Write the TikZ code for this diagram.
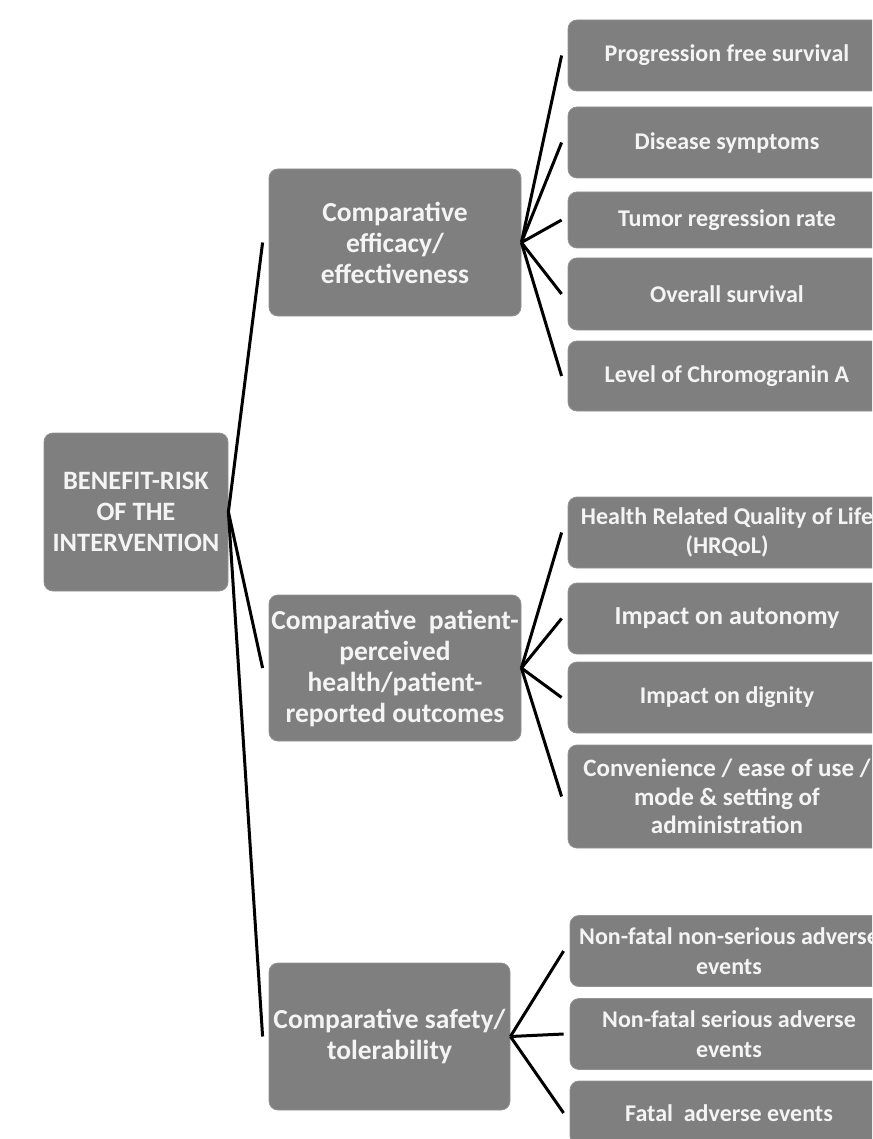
\documentclass[tikz,border=0pt]{standalone}
\usepackage{fontspec}
\setmainfont{Carlito}
\definecolor{boxgray}{HTML}{7F7F7F}
\definecolor{txtw}{HTML}{F4F4F4}
\begin{document}
\begin{tikzpicture}[x=1pt,y=-1pt,
  box/.style={fill=boxgray, draw=boxgray!85!white, line width=0.8pt, rounded corners=9pt, text=txtw, align=center, inner sep=0pt},
  bigtxt/.style={font=\bfseries\fontsize{27.5}{31}\selectfont},
  roottxt/.style={font=\bfseries\fontsize{26.5}{31}\selectfont},
  leaftxt/.style={font=\bfseries\fontsize{24}{29.5}\selectfont},
  leafbig/.style={font=\bfseries\fontsize{26}{29}\selectfont},
  conn/.style={draw=black, line width=3pt}]
\useasboundingbox (0,0) rectangle (872,1139);
\clip (0,0) rectangle (872,1139);
% root and middle level
\node[box, roottxt, minimum width=184, minimum height=158] (root) at (136,512) {BENEFIT-RISK\\OF THE\\INTERVENTION};
\node[box, bigtxt, minimum width=252, minimum height=147] (eff) at (395,242.5) {Comparative\\efficacy/\\effectiveness};
\node[box, bigtxt, minimum width=252, minimum height=146] (pat) at (395,668) {Comparative\ \ patient-\\perceived\\health/patient-\\reported outcomes};
\node[box, bigtxt, minimum width=241, minimum height=147] (saf) at (389.5,1036.5) {Comparative safety/\\tolerability};
% leaves: efficacy
\node[box, leaftxt, minimum width=318, minimum height=71] (b1) at (727,55.5) {Progression free survival};
\node[box, leaftxt, minimum width=318, minimum height=71] (b2) at (727,142.5) {Disease symptoms};
\node[box, leaftxt, minimum width=318, minimum height=56] (b3) at (727,220) {Tumor regression rate};
\node[box, leaftxt, minimum width=318, minimum height=72] (b4) at (727,294) {Overall survival};
\node[box, leaftxt, minimum width=318, minimum height=70] (b5) at (727,376) {Level of Chromogranin A};
% leaves: patient
\node[box, leaftxt, minimum width=318, minimum height=71] (b6) at (727,532.5) {Health Related Quality of Life\\(HRQoL)};
\node[box, leafbig, minimum width=318, minimum height=71] (b7) at (727,618.5) {Impact on autonomy};
\node[box, leaftxt, minimum width=318, minimum height=71] (b8) at (727,697.5) {Impact on dignity};
\node[box, font=\bfseries\fontsize{25}{28.5}\selectfont, minimum width=318, minimum height=103] (b9) at (727,796.5) {Convenience / ease of use /\\mode \& setting of\\administration};
% leaves: safety
\node[box, leaftxt, minimum width=318, minimum height=71] (b10) at (729,951) {Non-fatal non-serious adverse\\events};
\node[box, leaftxt, minimum width=318, minimum height=71] (b11) at (729,1034) {Non-fatal serious adverse\\events};
\node[box, leaftxt, minimum width=318, minimum height=64] (b12) at (729,1113) {Fatal\ \ adverse events};
% connectors root
\foreach \t in {eff,pat,saf}
  \draw[conn] (root.east) -- ([xshift=-6pt]\t.west);
% connectors efficacy
\foreach \t in {b1,b2,b3,b4,b5}
  \draw[conn] (eff.east) -- ([xshift=-6pt]\t.west);
\foreach \t in {b6,b7,b8,b9}
  \draw[conn] (pat.east) -- ([xshift=-6pt]\t.west);
\foreach \t in {b10,b11,b12}
  \draw[conn] (saf.east) -- ([xshift=-6pt]\t.west);
\end{tikzpicture}
\end{document}
